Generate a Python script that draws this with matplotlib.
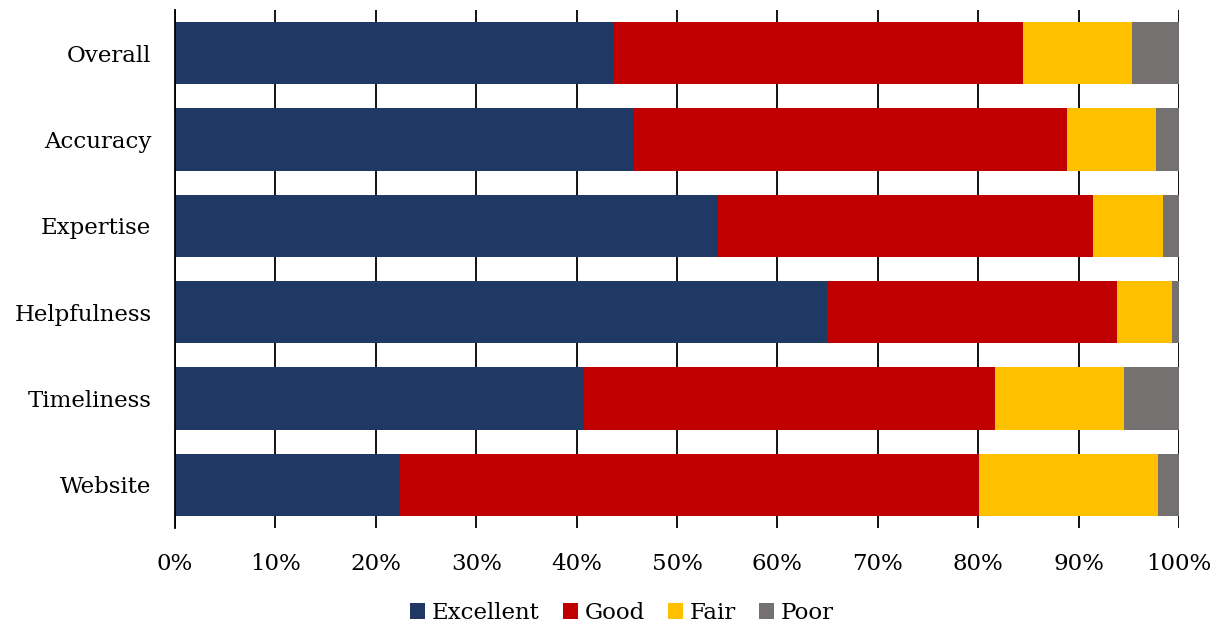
import matplotlib
matplotlib.use("Agg")
import matplotlib.pyplot as plt
import numpy as np

categories = ["Overall", "Accuracy", "Expertise", "Helpfulness", "Timeliness", "Website"]
excellent = [43.6, 45.6, 54.1, 64.9, 40.7, 22.4]
good = [40.9, 43.2, 37.3, 28.9, 41.0, 57.7]
fair = [10.8, 8.9, 7.0, 5.5, 12.8, 17.8]
poor = [4.7, 2.3, 1.6, 0.7, 5.5, 2.1]
series_names = ["Excellent", "Good", "Fair", "Poor"]
colors = ["#203864", "#C00000", "#FFC000", "#767171"]

plt.rcParams["font.family"] = ["DejaVu Serif"]
FS = 16.5

fig = plt.figure(figsize=(12.15, 6.25), dpi=100)
ax = fig.add_axes([175 / 1215, (625 - 528) / 625, (1179 - 175) / 1215, 518 / 625])

y = np.arange(len(categories))
left = np.zeros(len(categories))
for name, vals, col in zip(series_names, [excellent, good, fair, poor], colors):
    vals = np.array(vals)
    ax.barh(y, vals, left=left, height=0.72, color=col, label=name, zorder=2)
    left += vals

ax.set_xlim(0, 100)
ax.set_ylim(len(categories) - 0.5, -0.5)
ax.set_yticks(y)
ax.set_yticklabels(categories, fontsize=FS)
ax.set_xticks(np.arange(0, 101, 10))
ax.set_xticklabels([f"{v}%" for v in range(0, 101, 10)], fontsize=FS)
ax.tick_params(axis="y", length=0, pad=17)
ax.tick_params(axis="x", length=0, pad=18)
ax.grid(axis="x", color="black", linewidth=1.3, zorder=0)
ax.set_axisbelow(True)
for s in ["top", "bottom", "right"]:
    ax.spines[s].set_visible(False)
ax.spines["left"].set_color("black")
ax.spines["left"].set_linewidth(1.3)

handles, labels = ax.get_legend_handles_labels()
fig.legend(handles, labels, loc="center", bbox_to_anchor=(622 / 1215, 12 / 625), ncol=4,
           frameon=False, fontsize=FS, handlelength=0.65, handleheight=0.65,
           handletextpad=0.3, columnspacing=1.0, borderaxespad=0, borderpad=0)

fig.savefig("out.png", dpi=100, facecolor="white")
